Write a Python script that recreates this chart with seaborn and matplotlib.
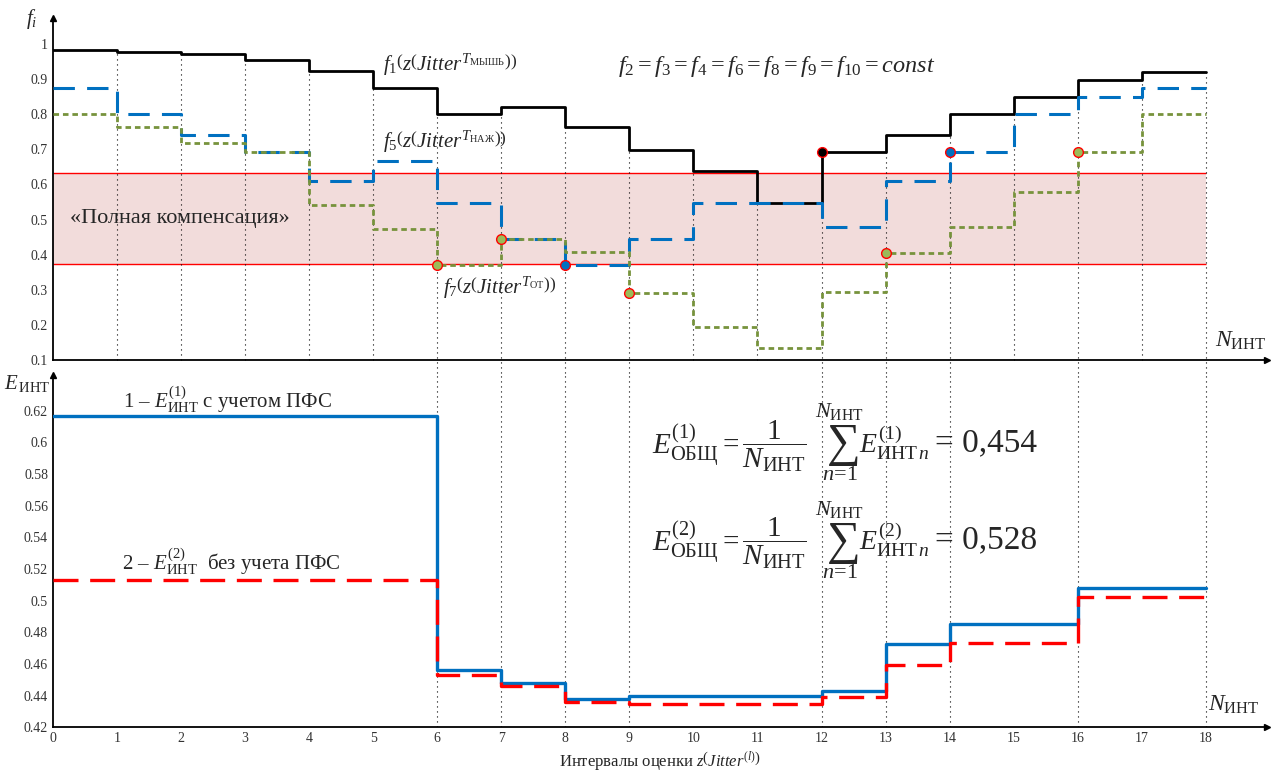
import matplotlib
matplotlib.use('Agg')
import matplotlib.pyplot as plt
import numpy as np
import pandas as pd
import seaborn as sns

# interval boundaries N_int = 0..18, values are per interval [n, n+1)
N = list(range(19))
F1 = [0.983, 0.978, 0.972, 0.954, 0.922, 0.875, 0.800, 0.820, 0.764,
      0.698, 0.639, 0.546, 0.693, 0.741, 0.800, 0.849, 0.897, 0.920]
F5 = [0.874, 0.800, 0.740, 0.693, 0.610, 0.666, 0.546, 0.444, 0.370,
      0.444, 0.546, 0.546, 0.478, 0.610, 0.693, 0.800, 0.849, 0.875]
F7 = [0.800, 0.763, 0.717, 0.693, 0.541, 0.472, 0.370, 0.444, 0.407,
      0.291, 0.193, 0.133, 0.294, 0.405, 0.478, 0.579, 0.693, 0.800]
E1 = [0.617, 0.617, 0.617, 0.617, 0.617, 0.617, 0.456, 0.448, 0.438,
      0.440, 0.440, 0.440, 0.443, 0.4725, 0.485, 0.485, 0.508, 0.508]
E2 = [0.513, 0.513, 0.513, 0.513, 0.513, 0.513, 0.453, 0.446, 0.436,
      0.4345, 0.4345, 0.4345, 0.439, 0.4595, 0.4735, 0.4735, 0.5025, 0.5025]
BAND = (0.372, 0.632)
MARK_X = [6, 7, 8, 9, 12, 13, 14, 16]
MARK_ON = ["f7", "f7", "f5", "f7", "f1", "f7", "f5", "f7"]
LINKED_X = [6, 7, 8, 9, 12, 13, 14, 16, 18]
E_TOTAL = ["0,454", "0,528"]

BLACK = "#000000"
BLUE = "#0070C0"
GREEN = "#77933C"
RED = "#FF0000"
BAND_COLOR = "#F2DCDB"

sns.set_style("white")
plt.rcParams['font.family'] = ['Liberation Serif', 'DejaVu Serif']
plt.rcParams['mathtext.fontset'] = 'custom'
plt.rcParams['mathtext.rm'] = 'Liberation Serif'
plt.rcParams['mathtext.it'] = 'Liberation Serif:italic'
plt.rcParams['mathtext.bf'] = 'Liberation Serif:bold'

W, H = 1273, 774


def steps(vals):
    return pd.DataFrame({"n": N, "v": list(vals) + [vals[-1]]})


def ftext(px, py, s, **kw):
    fig.text(px / W, 1 - py / H, s, **kw)


fig = plt.figure(figsize=(W / 100, H / 100), dpi=100)
ax1 = fig.add_axes([0.0416, 0.5349, 0.9534, 0.4418])
ax2 = fig.add_axes([0.0416, 0.0603, 0.9534, 0.4552])

XMAX = 18.95
for ax in (ax1, ax2):
    ax.set_xlim(0, XMAX)
    for s in ("top", "right"):
        ax.spines[s].set_visible(False)
    for s in ("left", "bottom"):
        ax.spines[s].set_linewidth(1.3)
        ax.spines[s].set_color("black")
    ax.tick_params(direction="in", length=9, width=1.2, color="#222222",
                   labelsize=10, labelcolor="#333333")
    ax.plot(1, 0, ">", color="black", ms=5, transform=ax.transAxes, clip_on=False)
    ax.plot(0, 1, "^", color="black", ms=5, transform=ax.transAxes, clip_on=False)
    ax.grid(False)

# ---------- top panel ----------
ax1.set_ylim(0.1, 1.074)
ax1.fill_between([0, 18], BAND[0], BAND[1], color=BAND_COLOR, lw=0, zorder=0)
ax1.hlines(BAND, 0, 18, colors=RED, lw=1.0, zorder=1)

for n in N[1:]:
    top = F1[n - 1] if n == 18 else min(F1[n - 1], F1[n])
    low = 0.05 if n in LINKED_X else 0.1
    ax1.vlines(n, low, top, colors="black", linestyles=(0, (1, 3.5)), lw=0.8,
               zorder=1, clip_on=False)

sns.lineplot(data=steps(F1), x="n", y="v", drawstyle="steps-post", color=BLACK,
             lw=2.0, ax=ax1, zorder=3)
sns.lineplot(data=steps(F5), x="n", y="v", drawstyle="steps-post", color=BLUE,
             lw=2.2, linestyle=(0, (7, 4)), ax=ax1, zorder=4)
sns.lineplot(data=steps(F7), x="n", y="v", drawstyle="steps-post", color=GREEN,
             lw=2.0, linestyle=(0, (2, 1.4)), ax=ax1, zorder=5)

series = {"f1": (F1, BLACK), "f5": (F5, BLUE), "f7": (F7, "#9BBB59")}
for x, key in zip(MARK_X, MARK_ON):
    vals, col = series[key]
    ax1.plot(x, vals[x], "o", ms=7, mfc=col, mec=RED, mew=1.0, zorder=6)

ax1.set_yticks(np.arange(0.1, 1.01, 0.1))
ax1.set_yticklabels(["0.1", "0.2", "0.3", "0.4", "0.5", "0.6", "0.7", "0.8", "0.9", "1"])
ax1.set_xticks(N)
ax1.set_xticklabels([])
ax1.set_xlabel("")
ax1.set_ylabel("")

ax1.text(-0.33, 1.072, r"$f_i$", fontsize=15, ha="center", va="center", clip_on=False)
ax1.text(5.15, 0.94, r"$f_1\left(z\left(Jitter^{T_{\mathrm{МЫШЬ}}}\right)\right)$",
         fontsize=15, ha="left", va="center")
ax1.text(5.15, 0.72, r"$f_5\left(z\left(Jitter^{T_{\mathrm{НАЖ}}}\right)\right)$",
         fontsize=15, ha="left", va="center")
ax1.text(6.09, 0.305, r"$f_7\left(z\left(Jitter^{T_{\mathrm{ОТ}}}\right)\right)$",
         fontsize=15, ha="left", va="center")
ax1.text(8.83, 0.937, r"$f_2=f_3=f_4=f_6=f_8=f_9=f_{10}=const$",
         fontsize=17.5, ha="left", va="center")
ax1.text(0.27, 0.504, "«Полная компенсация»", fontsize=16, ha="left", va="center")
ax1.text(18.15, 0.155, r"$N_{\mathrm{ИНТ}}$", fontsize=17, ha="left", va="center")

# ---------- bottom panel ----------
ax2.set_ylim(0.42, 0.6426)
for n in LINKED_X:
    ax2.vlines(n, 0.42, 0.6426, colors="black", linestyles=(0, (1, 3.5)), lw=0.8,
               zorder=1)

sns.lineplot(data=steps(E1), x="n", y="v", drawstyle="steps-post", color=BLUE,
             lw=2.4, ax=ax2, zorder=3)
sns.lineplot(data=steps(E2), x="n", y="v", drawstyle="steps-post", color=RED,
             lw=2.4, linestyle=(0, (7.5, 3.5)), ax=ax2, zorder=4)

ax2.set_yticks(np.arange(0.42, 0.621, 0.02))
ax2.set_yticklabels(["%g" % round(v, 2) for v in np.arange(0.42, 0.621, 0.02)])
ax2.set_xticks(N)
ax2.set_xticklabels([str(n) for n in N])
ax2.set_ylabel("")
ax2.set_xlabel(r"Интервалы оценки $z\left(Jitter^{(l)}\right)$", fontsize=12, labelpad=3)

ax2.text(-0.4, 0.6375, r"$E_{\,\mathrm{ИНТ}}$", fontsize=15, ha="center", va="center",
         clip_on=False)
ax2.text(1.1, 0.627, r"1 – $E^{(1)}_{\mathrm{ИНТ}}$ с учетом ПФС", fontsize=15,
         ha="left", va="center")
ax2.text(1.08, 0.5245, r"2 – $E^{(2)}_{\mathrm{ИНТ}}$  без учета ПФС", fontsize=15,
         ha="left", va="center")
ax2.text(18.03, 0.434, r"$N_{\mathrm{ИНТ}}$", fontsize=17, ha="left", va="center")

# total-error formulas, composed piece by piece (display style)
for i, (k, val) in enumerate(zip(["1", "2"], E_TOTAL)):
    dy = 97 * i
    ftext(652, 446 + dy,
          r"$E^{(%s)}_{\mathrm{ОБЩ}}=\dfrac{1}{N_{\mathrm{ИНТ}}}$" % k,
          fontsize=21, ha="left", va="center")
    ftext(842, 446 + dy, r"$\sum$", fontsize=34, ha="center", va="center")
    ftext(839, 412 + dy, r"$N_{\mathrm{ИНТ}}$", fontsize=16, ha="center", va="center")
    ftext(840, 476 + dy, r"$n\!=\!1$", fontsize=16, ha="center", va="center")
    ftext(859, 443 + dy, r"$E^{(%s)}_{\mathrm{ИНТ}\,n}$" % k,
          fontsize=20, ha="left", va="center")
    ftext(935, 443 + dy, "= " + val, fontsize=24, ha="left", va="center")

fig.savefig("out.png", dpi=100)
